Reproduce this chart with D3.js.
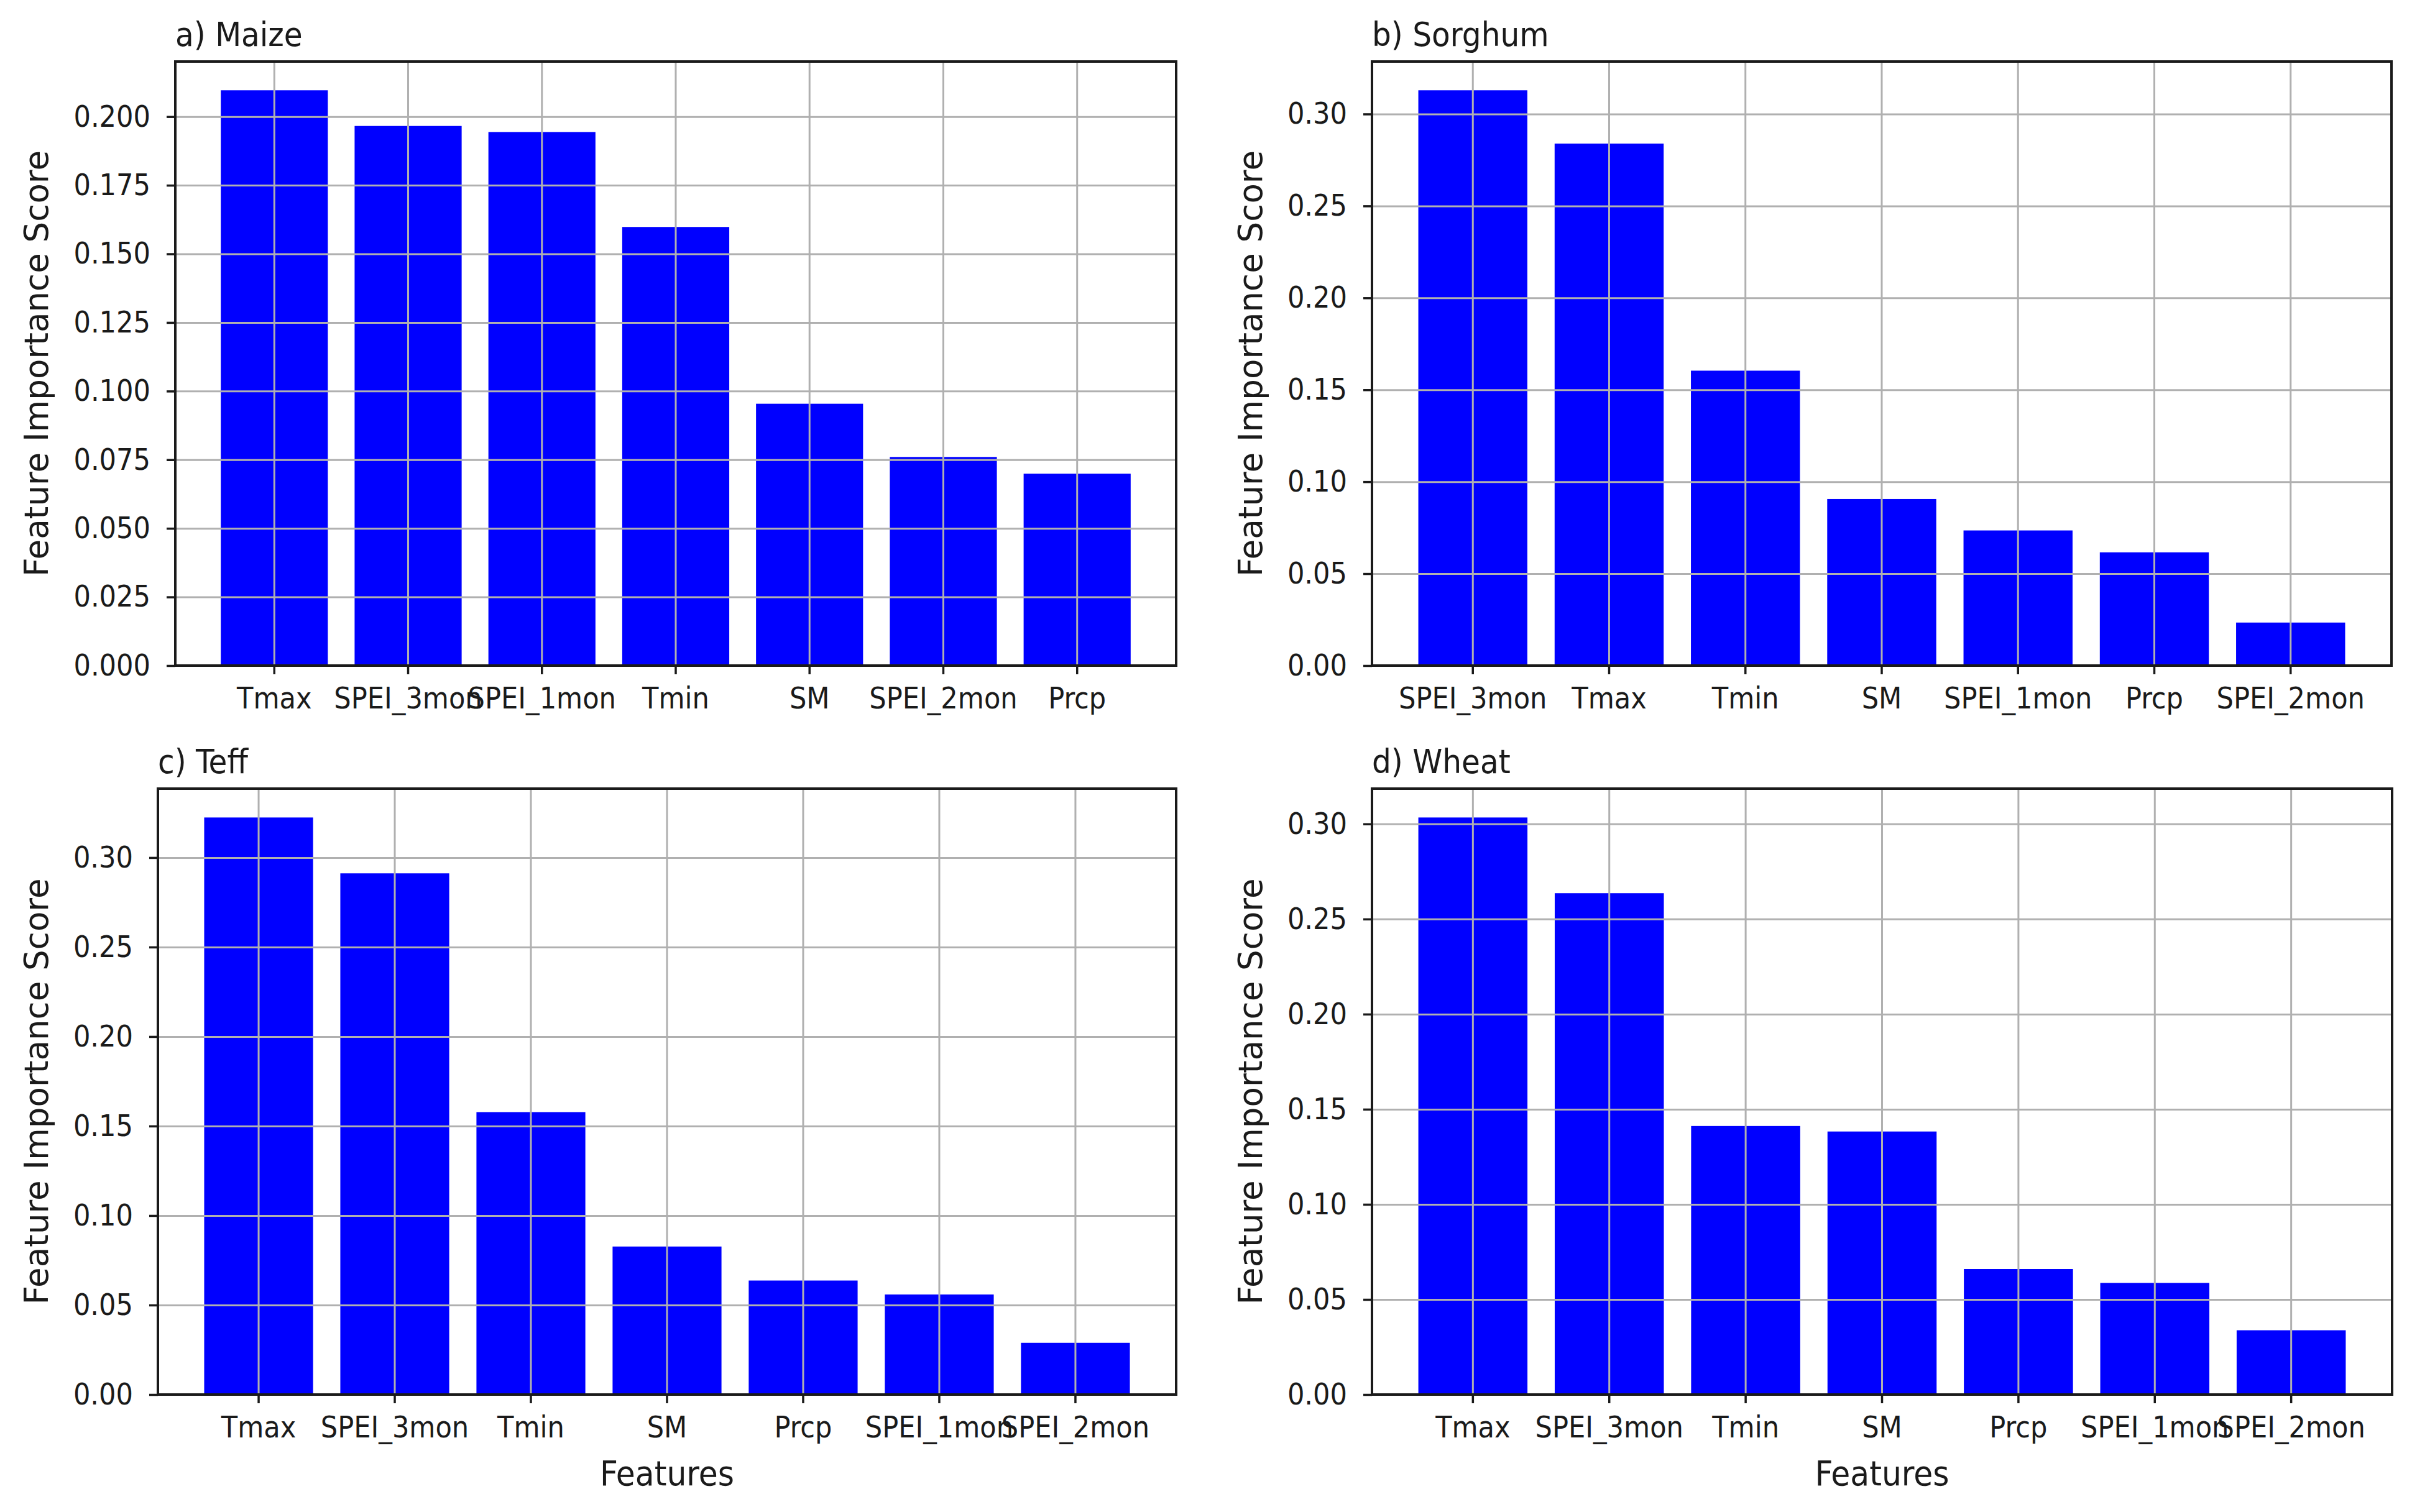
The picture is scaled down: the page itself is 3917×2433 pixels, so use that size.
<html>
<head>
<meta charset="utf-8">
<script src="https://d3js.org/d3.v7.min.js"></script>
<style>
body {
	margin: 0;
	background: #fff;
}
text {
	font-family: "DejaVu Sans Condensed", "DejaVu Sans", sans-serif;
	fill: #1a1a1a;
}
.ylab {
	font-family: "DejaVu Sans", sans-serif;
}
.grid line {
	stroke: #b0b0b0;
	stroke-width: 3;
}
.grid path, .grid text {
	display: none;
}
.axis path {
	display: none;
}
.axis line {
	stroke: #1a1a1a;
	stroke-width: 3.5;
}
</style>
</head>
<body>
<div id="chart"></div>
<script>

// --- data ---
var maizeFeatures = ["Tmax", "SPEI_3mon", "SPEI_1mon", "Tmin", "SM", "SPEI_2mon", "Prcp"];
var maizeValues = [0.2096, 0.1966, 0.1944, 0.1598, 0.0954, 0.0760, 0.0699];

var sorghumFeatures = ["SPEI_3mon", "Tmax", "Tmin", "SM", "SPEI_1mon", "Prcp", "SPEI_2mon"];
var sorghumValues = [0.3129, 0.2839, 0.1604, 0.0906, 0.0735, 0.0616, 0.0234];

var teffFeatures = ["Tmax", "SPEI_3mon", "Tmin", "SM", "Prcp", "SPEI_1mon", "SPEI_2mon"];
var teffValues = [0.3224, 0.2912, 0.1578, 0.0827, 0.0637, 0.0559, 0.0289];

var wheatFeatures = ["Tmax", "SPEI_3mon", "Tmin", "SM", "Prcp", "SPEI_1mon", "SPEI_2mon"];
var wheatValues = [0.3034, 0.2636, 0.1412, 0.1383, 0.0660, 0.0587, 0.0338];

var maizeTicks = [0, 0.025, 0.05, 0.075, 0.1, 0.125, 0.15, 0.175, 0.2];
var otherTicks = [0, 0.05, 0.1, 0.15, 0.2, 0.25, 0.3];

var titles = ["a) Maize", "b) Sorghum", "c) Teff", "d) Wheat"];
var yTitle = "Feature Importance Score";
var xTitle = "Features";

// panel boxes (left, top, right, bottom) in page pixels
var panels = [
	{title: titles[0], feats: maizeFeatures, vals: maizeValues, ticks: maizeTicks, fmt: ".3f",
		l: 282, t: 99, r: 1892, b: 1071, ylabX: 77, xlab: false},
	{title: titles[1], feats: sorghumFeatures, vals: sorghumValues, ticks: otherTicks, fmt: ".2f",
		l: 2207, t: 99, r: 3847, b: 1071, ylabX: 2030, xlab: false},
	{title: titles[2], feats: teffFeatures, vals: teffValues, ticks: otherTicks, fmt: ".2f",
		l: 254, t: 1269, r: 1892, b: 2244, ylabX: 77, xlab: true},
	{title: titles[3], feats: wheatFeatures, vals: wheatValues, ticks: otherTicks, fmt: ".2f",
		l: 2207, t: 1269, r: 3848, b: 2244, ylabX: 2030, xlab: true}
];

var svg = d3.select("#chart").append("svg")
	.attr("width", 3917)
	.attr("height", 2433);

svg.append("rect")
	.attr("width", 3917)
	.attr("height", 2433)
	.attr("fill", "#fff");

panels.forEach(function(p) {
	var w = p.r - p.l,
		h = p.b - p.t;

	var data = p.feats.map(function(f, i) { return {group: f, value: p.vals[i]}; });

	// matplotlib-like band: bar width 0.8, 5% margins
	var x = d3.scaleBand().domain(p.feats).range([0, w]).paddingInner(0.2).paddingOuter(0.34);
	var y = d3.scaleLinear().domain([0, d3.max(p.vals) * 1.05]).range([h, 0]);

	var g = svg.append("g")
		.attr("transform", "translate(" + p.l + "," + p.t + ")");

	// bars
	g.selectAll(".bar")
		.data(data)
		.enter()
		.append("rect")
		.attr("class", "bar")
		.attr("x", function(d) { return x(d.group); })
		.attr("y", function(d) { return y(d.value); })
		.attr("width", x.bandwidth())
		.attr("height", function(d) { return h - y(d.value); })
		.attr("fill", "#0000ff");

	// grid over the bars
	g.append("g")
		.attr("class", "grid")
		.call(d3.axisLeft(y).tickValues(p.ticks).tickSize(-w));
	g.append("g")
		.attr("class", "grid")
		.attr("transform", "translate(0," + h + ")")
		.call(d3.axisBottom(x).tickSize(-h));

	// axes
	var yAx = g.append("g")
		.attr("class", "axis")
		.call(d3.axisLeft(y).tickValues(p.ticks).tickSize(14).tickPadding(26).tickFormat(d3.format(p.fmt)));
	yAx.selectAll("text").attr("font-size", 48).attr("fill", "#1a1a1a");

	var xAx = g.append("g")
		.attr("class", "axis")
		.attr("transform", "translate(0," + h + ")")
		.call(d3.axisBottom(x).tickSize(14));
	xAx.selectAll("text")
		.attr("font-size", 48)
		.attr("fill", "#1a1a1a")
		.attr("y", 69)
		.attr("dy", null);

	// frame
	g.append("rect")
		.attr("width", w)
		.attr("height", h)
		.attr("fill", "none")
		.attr("stroke", "#1a1a1a")
		.attr("stroke-width", 4);

	// title
	svg.append("text")
		.attr("x", p.l)
		.attr("y", p.t - 25)
		.attr("font-size", 54)
		.text(p.title);

	// y label
	svg.append("text")
		.attr("class", "ylab")
		.attr("transform", "translate(" + p.ylabX + "," + (p.t + h / 2) + ") rotate(-90)")
		.attr("text-anchor", "middle")
		.attr("font-size", 53)
		.text(yTitle);

	// x label
	if (p.xlab) {
		svg.append("text")
			.attr("x", p.l + w / 2)
			.attr("y", 2390)
			.attr("text-anchor", "middle")
			.attr("font-size", 56)
			.text(xTitle);
	}
});

</script>
</body>
</html>
